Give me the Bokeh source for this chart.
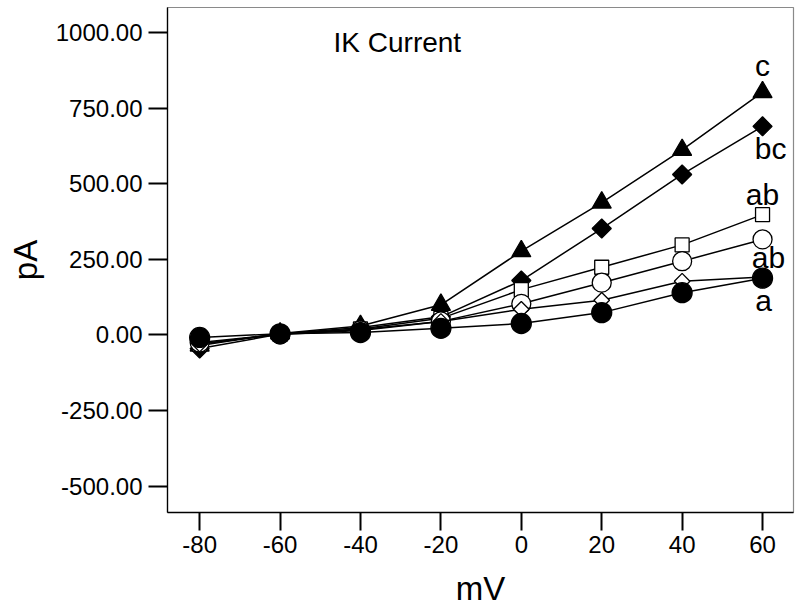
import math
from bokeh.plotting import figure
from bokeh.models import FixedTicker, PrintfTickFormatter, Range1d, Label, ColumnDataSource
from bokeh.core.properties import value
from bokeh.embed import file_html
from bokeh.resources import INLINE

# ---- data ----
mv = [-80, -60, -40, -20, 0, 20, 40, 60]
tri_filled = [-35, 5, 30, 100, 277, 438, 612, 803]      # "c"
dia_filled = [-45, 3, 25, 60, 180, 352, 531, 690]       # "bc"
sq_open = [-30, 3, 20, 55, 150, 224, 298, 398]          # "ab"
circ_open = [-25, 2, 15, 45, 103, 173, 244, 316]        # "ab"
dia_open = [-30, 3, 18, 45, 85, 115, 178, 192]
circ_filled = [-8, 4, 8, 22, 38, 74, 140, 188]          # "a"

y_ticks = [-500, -250, 0, 250, 500, 750, 1000]
x_ticks = [-80, -60, -40, -20, 0, 20, 40, 60]

letters = ["c", "bc", "ab", "ab", "a"]
title_text = "IK Current"
x_title = "mV"
y_title = "pA"

FONT = "Liberation Sans"
X0, X1 = -88, 67.7
Y0, Y1 = -587, 1083

p = figure(width=800, height=609, output_backend="svg", toolbar_location=None,
           x_range=Range1d(X0, X1), y_range=Range1d(Y0, Y1),
           min_border_left=167, min_border_right=7, min_border_top=7, min_border_bottom=97)
p.background_fill_color = "white"
p.border_fill_color = "white"
p.outline_line_color = "#8a8a8a"
p.outline_line_width = 1.2
p.xgrid.visible = False
p.ygrid.visible = False

for ax in (p.xaxis[0], p.yaxis[0]):
    ax.axis_line_color = "black"
    ax.axis_line_width = 1.3
    ax.major_tick_line_color = "black"
    ax.major_tick_line_width = 2
    ax.major_tick_in = 0
    ax.minor_tick_line_color = None
    ax.major_label_text_font = FONT
    ax.major_label_text_font_size = "24px"
    ax.major_label_text_color = "black"
    ax.axis_label_text_font = FONT
    ax.axis_label_text_font_style = "normal"
    ax.axis_label_text_color = "black"
    ax.axis_label_text_font_size = "33px"

p.xaxis[0].ticker = FixedTicker(ticks=x_ticks)
p.xaxis[0].formatter = PrintfTickFormatter(format="%d")
p.xaxis[0].major_tick_out = 18
p.xaxis[0].major_label_standoff = 5
p.xaxis[0].axis_label = x_title
p.xaxis[0].axis_label_standoff = 14

p.yaxis[0].ticker = FixedTicker(ticks=y_ticks)
p.yaxis[0].formatter = PrintfTickFormatter(format="%.2f")
p.yaxis[0].major_tick_out = 19
p.yaxis[0].major_label_standoff = 6
p.yaxis[0].axis_label = y_title
p.yaxis[0].axis_label_standoff = 9

series = [
    (tri_filled, "triangle", 19, "black", 0.0),
    (dia_filled, "square", 13.5, "black", math.pi / 4),
    (sq_open, "square", 14, "white", 0.0),
    (circ_open, "circle", 19, "white", 0.0),
    (dia_open, "square", 11, "white", math.pi / 4),
    (circ_filled, "circle", 20, "black", 0.0),
]

for ys, marker, size, fill, ang in series:
    src = ColumnDataSource(dict(x=mv, y=ys))
    p.line("x", "y", source=src, line_color="black", line_width=1.5)
    p.scatter("x", "y", source=src, marker=marker, size=size, angle=ang,
              fill_color=fill, line_color="black", line_width=1.3)

# significance letters next to the last point of the labelled series
lab_series = [tri_filled, dia_filled, sq_open, circ_open, circ_filled]
lab_dy = [-27, 22, -20, 18, 22]   # screen px from the point to the text baseline
lab_dx = [0, 8, 0, 6, 1]
for txt, ys, dy, dx in zip(letters, lab_series, lab_dy, lab_dx):
    p.text(x=[mv[-1]], y=[ys[-1]], text=[txt], x_offset=dx, y_offset=dy,
           text_align="center", text_baseline="alphabetic",
           text_font=value(FONT), text_font_size="30px", text_color="black")

# chart title inside the frame
p.add_layout(Label(x=-46.7, y=967, text=title_text, text_font=FONT,
                   text_font_size="28px", text_color="black",
                   text_baseline="alphabetic", text_align="left"))

open("out.html", "w").write(file_html(p, INLINE))
